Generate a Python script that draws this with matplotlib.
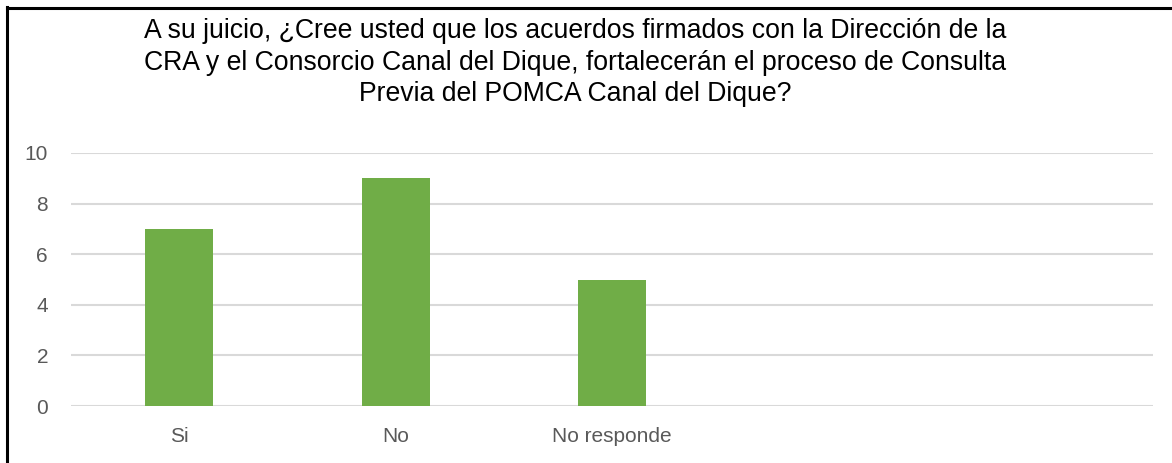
import matplotlib
matplotlib.use("Agg")
import matplotlib.pyplot as plt
from matplotlib.lines import Line2D

categories = ["Si", "No", "No responde", "", ""]
values = [7, 9, 5, None, None]
yticks = [0, 2, 4, 6, 8, 10]
title = ("A su juicio, ¿Cree usted que los acuerdos firmados con la Dirección de la\n"
         "CRA y el Consorcio Canal del Dique, fortalecerán el proceso de Consulta\n"
         "Previa del POMCA Canal del Dique?")

W, H = 1172, 463
fig = plt.figure(figsize=(W / 100, H / 100), dpi=100)
ax = fig.add_axes([71 / W, 1 - 406 / H, (1153 - 71) / W, (406 - 153) / H])

xs = list(range(len(categories)))
bx = [x for x, v in zip(xs, values) if v is not None]
bv = [v for v in values if v is not None]
ax.bar(bx, bv, width=0.315, color="#70ad47", zorder=3)

ax.set_xlim(-0.5, len(categories) - 0.5)
ax.set_ylim(0, 10)
ax.set_yticks(yticks)
ax.set_xticks(xs)
ax.set_xticklabels(categories)
for s in ax.spines.values():
    s.set_visible(False)
ax.grid(axis="y", color="#d9d9d9", linewidth=1.5, zorder=0)
ax.tick_params(axis="both", length=0, colors="#595959", labelsize=15)
ax.tick_params(axis="y", pad=16.5)
ax.tick_params(axis="x", pad=15)
for lab in ax.get_xticklabels() + ax.get_yticklabels():
    lab.set_fontfamily(["Liberation Sans", "DejaVu Sans"])

fig.text(575 / W, 1 - 18 / H, title, ha="center", va="top", fontsize=19.2,
         family=["Liberation Sans", "DejaVu Sans"], color="black", linespacing=1.28)

fig.add_artist(Line2D([6.5 / W, 6.5 / W], [0, 1 - 7 / H], transform=fig.transFigure,
                      color="black", linewidth=2.2))
fig.add_artist(Line2D([6.5 / W, 1], [1 - 7.5 / H, 1 - 7.5 / H], transform=fig.transFigure,
                      color="black", linewidth=2.2))

fig.savefig("out.png", dpi=100)
